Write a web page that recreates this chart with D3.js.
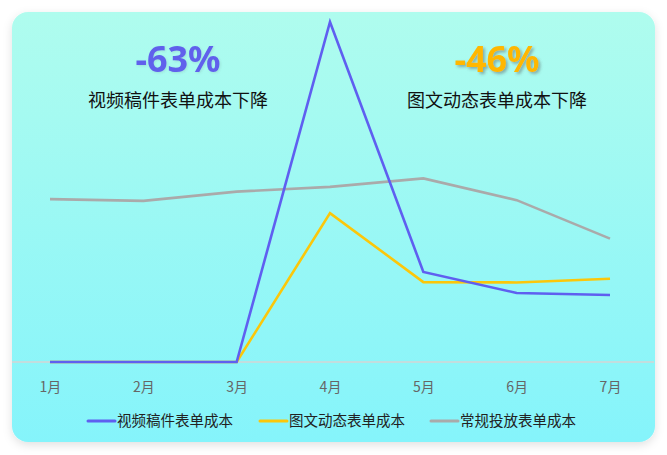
<!DOCTYPE html>
<html>
<head>
<meta charset="utf-8">
<script src="https://cdn.jsdelivr.net/npm/d3@7/dist/d3.min.js"></script>
<style>
html,body{margin:0;padding:0;background:#fff;}
svg{display:block;}
</style>
</head>
<body>
<svg id="chart" width="667" height="455"></svg>
<script>
const months = ["1月","2月","3月","4月","5月","6月","7月"];
const seriesNames = ["视频稿件表单成本","图文动态表单成本","常规投放表单成本"];
const videoCost = [0, 0, 0, 100, 26.5, 20.3, 19.7];
const articleCost = [0, 0, 0, 43.8, 23.5, 23.4, 24.5];
const regularCost = [47.9, 47.4, 50.1, 51.5, 54.0, 47.6, 36.3];
const seriesColors = ["#5f5ff0", "#fcc70a", "#aaaaaa"];
const headlineValues = ["-63%", "-46%"];
const headlineTexts = ["视频稿件表单成本下降", "图文动态表单成本下降"];

const svg = d3.select("#chart");
const defs = svg.append("defs");

const grad = defs.append("linearGradient").attr("id","bg").attr("x1",0).attr("y1",0).attr("x2",0).attr("y2",1);
grad.append("stop").attr("offset","0%").attr("stop-color","#affcee");
grad.append("stop").attr("offset","100%").attr("stop-color","#85f4fb");

const sh = defs.append("filter").attr("id","cardShadow").attr("x","-10%").attr("y","-10%").attr("width","120%").attr("height","125%");
sh.append("feDropShadow").attr("dx",0).attr("dy",3).attr("stdDeviation",5).attr("flood-color","#000").attr("flood-opacity",0.12);

const tsh = defs.append("filter").attr("id","textShadow").attr("x","-20%").attr("y","-30%").attr("width","140%").attr("height","170%");
tsh.append("feDropShadow").attr("dx",2).attr("dy",2).attr("stdDeviation",1.5).attr("flood-color","#555").attr("flood-opacity",0.45);
const tsh2 = defs.append("filter").attr("id","textShadow2").attr("x","-20%").attr("y","-30%").attr("width","140%").attr("height","170%");
tsh2.append("feDropShadow").attr("dx",1).attr("dy",1).attr("stdDeviation",1).attr("flood-color","#555").attr("flood-opacity",0.15);

// card
svg.append("rect").attr("x",12).attr("y",12).attr("width",643).attr("height",430)
  .attr("rx",16).attr("ry",16).attr("fill","url(#bg)").attr("filter","url(#cardShadow)");

// scales
const x = d3.scalePoint().domain(months).range([12, 648]).padding(0.407);
const y = d3.scaleLinear().domain([0, 100]).range([362, 22]);

// axis
const axis = svg.append("g").attr("transform","translate(0,362)")
  .call(d3.axisBottom(x).tickSize(0).tickPadding(20));
axis.select(".domain").attr("d","M12,0H654").attr("stroke","#d4d4d4").attr("stroke-width",1.5);
axis.selectAll("text").attr("fill","#666").attr("font-size",14)
  .attr("font-family","'Noto Sans CJK SC','Noto Sans',sans-serif");

// lines
const allSeries = [videoCost, articleCost, regularCost];
const line = d3.line().x((d,i)=>x(months[i])).y(d=>y(d));
[2,1,0].forEach(k=>{
  svg.append("path").datum(allSeries[k]).attr("d",line)
    .attr("fill","none").attr("stroke",seriesColors[k]).attr("stroke-width",2.6)
    .attr("stroke-linejoin","miter").attr("stroke-linecap","butt");
});

// headlines
const hx = [178, 497];
const hColors = ["#6060ec", "#ffb700"];
headlineValues.forEach((v,i)=>{
  svg.append("text").attr("x",hx[i]).attr("y",72).attr("text-anchor","middle")
    .attr("font-family","'Noto Sans','DejaVu Sans',sans-serif").attr("font-weight","bold")
    .attr("font-size",36).attr("fill",hColors[i])
    .attr("filter", i===1 ? "url(#textShadow)" : "url(#textShadow2)")
    .text(v);
  svg.append("text").attr("x",hx[i]).attr("y",107).attr("text-anchor","middle")
    .attr("font-family","'Noto Sans CJK SC',sans-serif").attr("font-size",18)
    .attr("fill","#111").text(headlineTexts[i]);
});

// legend
const legX = [88, 260, 431];
seriesNames.forEach((n,i)=>{
  const g = svg.append("g").attr("transform",`translate(${legX[i]},421)`);
  g.append("line").attr("x1",0).attr("x2",27).attr("y1",0).attr("y2",0)
    .attr("stroke",seriesColors[i]).attr("stroke-width",3).attr("stroke-linecap","round");
  g.append("text").attr("x",29).attr("y",0).attr("dy","0.35em")
    .attr("font-family","'Noto Sans CJK SC',sans-serif").attr("font-size",14.5)
    .attr("fill","#222").text(n);
});
</script>
</body>
</html>
